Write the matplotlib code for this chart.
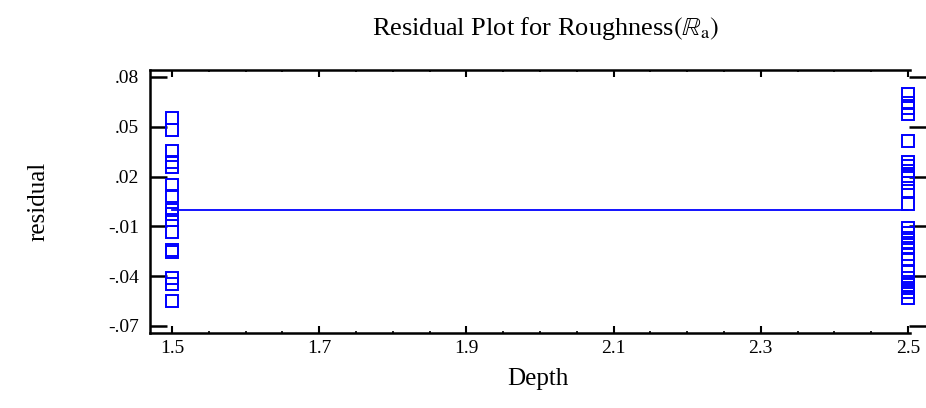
import numpy as np
import matplotlib.pyplot as plt
from matplotlib.ticker import MultipleLocator, FixedLocator

plt.rcParams['font.family'] = ['Liberation Serif', 'DejaVu Serif']
plt.rcParams['mathtext.fontset'] = 'stix'

# residuals at depth 1.5
res_15 = [0.0553, 0.0481, 0.0354, 0.0288, 0.0258, 0.0149, 0.0083, 0.0000,
          -0.0025, -0.0061, -0.0134, -0.0242, -0.0254, -0.0411, -0.0447, -0.0549]
# residuals at depth 2.5
res_25 = [0.0698, 0.0643, 0.0613, 0.0577, 0.0414, 0.0288, 0.0264, 0.0234,
          0.0204, 0.0161, 0.0113, 0.0035, -0.0110, -0.0140, -0.0170, -0.0200,
          -0.0230, -0.0266, -0.0296, -0.0375, -0.0411, -0.0435, -0.0453,
          -0.0471, -0.0495, -0.0531]
depths = [1.5, 2.5]
xticks = [1.5, 1.7, 1.9, 2.1, 2.3, 2.5]
yticks = [0.08, 0.05, 0.02, -0.01, -0.04, -0.07]
ytick_labels = [".08", ".05", ".02", "-.01", "-.04", "-.07"]

blue = "#0000ff"

fig = plt.figure(figsize=(9.26, 4.08), dpi=100)
ax = fig.add_axes([150 / 926, 1 - 333 / 408, 776 / 926, 263 / 408])

ax.plot([depths[0]] * len(res_15), res_15, linestyle="none", marker="s",
        markersize=8, markerfacecolor="none", markeredgecolor=blue,
        markeredgewidth=1.4)
ax.plot([depths[1]] * len(res_25), res_25, linestyle="none", marker="s",
        markersize=8, markerfacecolor="none", markeredgecolor=blue,
        markeredgewidth=1.4)
ax.plot(depths, [0, 0], color=blue, linewidth=1.3)

xmin, xmax = 1.5 - 22 / 736, 2.5 + 18 / 736
ax.set_xlim(xmin, xmax)
ax.set_ylim(0.08 - 256 / 1660, 0.08 + 7 / 1660)

ax.xaxis.set_major_locator(FixedLocator(xticks))
ax.xaxis.set_minor_locator(MultipleLocator(0.05))
ax.set_xticklabels([str(t) for t in xticks])
ax.set_yticks(yticks)
ax.set_yticklabels(ytick_labels)

ax.spines['right'].set_visible(False)
ax.spines['top'].set_bounds(xmin, 2.503)
ax.spines['bottom'].set_bounds(xmin, 2.503)
for s in ['left', 'top', 'bottom']:
    ax.spines[s].set_linewidth(1.8)

ax.tick_params(axis='x', which='major', direction='in', length=5, width=1.5,
               top=True, labelsize=14, pad=5)
ax.tick_params(axis='x', which='minor', direction='in', length=1.5, width=1.2,
               top=True)
ax.tick_params(axis='y', which='major', direction='in', length=12, width=1.8,
               right=True, labelsize=14, pad=8)

ax.set_xlabel("Depth", fontsize=18, labelpad=8)
ax.set_ylabel("residual", fontsize=18, labelpad=42)
fig.text(545 / 926, 1 - 29 / 408, r"Residual Plot for Roughness$(\mathbb{R}_{\mathrm{a}})$",
         fontsize=19, ha="center", va="center")

fig.savefig("out.png", dpi=100)
